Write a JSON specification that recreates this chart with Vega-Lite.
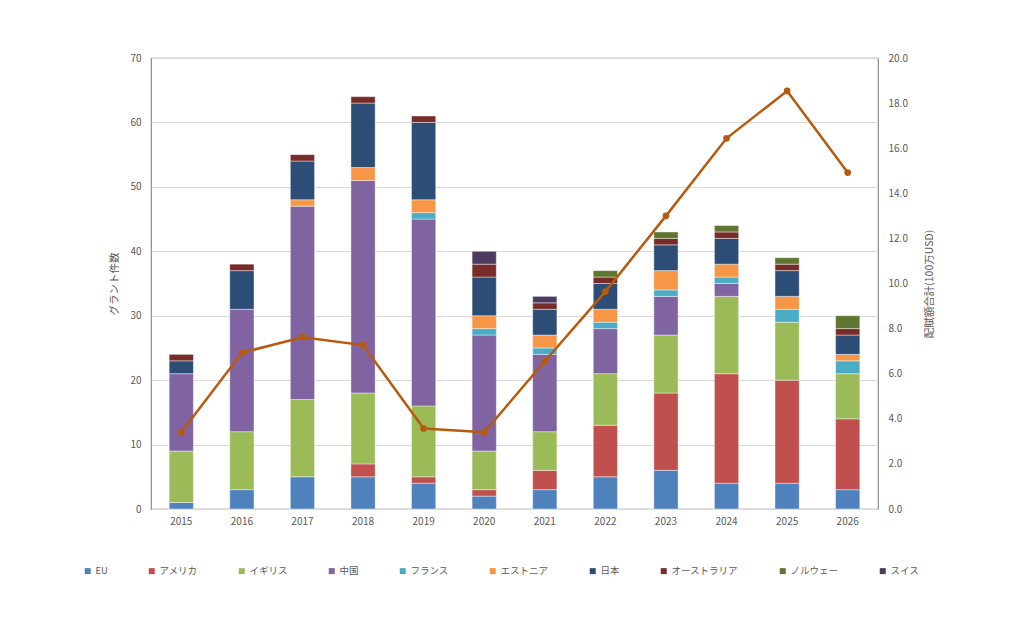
{
  "$schema": "https://vega.github.io/schema/vega-lite/v6.json",
  "autosize": "none",
  "width": 727,
  "height": 451,
  "padding": {"left": 151, "top": 58, "right": 146, "bottom": 129},
  "background": "white",
  "config": {
    "font": "Noto Sans CJK JP",
    "view": {"stroke": "#8a8a8a", "strokeWidth": 1.2},
    "axis": {
      "labelColor": "#595959",
      "labelFontSize": 10,
      "titleColor": "#595959",
      "titleFontSize": 10.5,
      "titleFontWeight": "normal",
      "ticks": false,
      "domain": false,
      "gridColor": "#d9d9d9",
      "gridWidth": 1
    }
  },
  "datasets": {
    "grants": [
      {"year": "2015", "country": "EU", "idx": 0, "count": 1},
      {"year": "2015", "country": "イギリス", "idx": 2, "count": 8},
      {"year": "2015", "country": "中国", "idx": 3, "count": 12},
      {"year": "2015", "country": "日本", "idx": 6, "count": 2},
      {"year": "2015", "country": "オーストラリア", "idx": 7, "count": 1},

      {"year": "2016", "country": "EU", "idx": 0, "count": 3},
      {"year": "2016", "country": "イギリス", "idx": 2, "count": 9},
      {"year": "2016", "country": "中国", "idx": 3, "count": 19},
      {"year": "2016", "country": "日本", "idx": 6, "count": 6},
      {"year": "2016", "country": "オーストラリア", "idx": 7, "count": 1},

      {"year": "2017", "country": "EU", "idx": 0, "count": 5},
      {"year": "2017", "country": "イギリス", "idx": 2, "count": 12},
      {"year": "2017", "country": "中国", "idx": 3, "count": 30},
      {"year": "2017", "country": "エストニア", "idx": 5, "count": 1},
      {"year": "2017", "country": "日本", "idx": 6, "count": 6},
      {"year": "2017", "country": "オーストラリア", "idx": 7, "count": 1},

      {"year": "2018", "country": "EU", "idx": 0, "count": 5},
      {"year": "2018", "country": "アメリカ", "idx": 1, "count": 2},
      {"year": "2018", "country": "イギリス", "idx": 2, "count": 11},
      {"year": "2018", "country": "中国", "idx": 3, "count": 33},
      {"year": "2018", "country": "エストニア", "idx": 5, "count": 2},
      {"year": "2018", "country": "日本", "idx": 6, "count": 10},
      {"year": "2018", "country": "オーストラリア", "idx": 7, "count": 1},

      {"year": "2019", "country": "EU", "idx": 0, "count": 4},
      {"year": "2019", "country": "アメリカ", "idx": 1, "count": 1},
      {"year": "2019", "country": "イギリス", "idx": 2, "count": 11},
      {"year": "2019", "country": "中国", "idx": 3, "count": 29},
      {"year": "2019", "country": "フランス", "idx": 4, "count": 1},
      {"year": "2019", "country": "エストニア", "idx": 5, "count": 2},
      {"year": "2019", "country": "日本", "idx": 6, "count": 12},
      {"year": "2019", "country": "オーストラリア", "idx": 7, "count": 1},

      {"year": "2020", "country": "EU", "idx": 0, "count": 2},
      {"year": "2020", "country": "アメリカ", "idx": 1, "count": 1},
      {"year": "2020", "country": "イギリス", "idx": 2, "count": 6},
      {"year": "2020", "country": "中国", "idx": 3, "count": 18},
      {"year": "2020", "country": "フランス", "idx": 4, "count": 1},
      {"year": "2020", "country": "エストニア", "idx": 5, "count": 2},
      {"year": "2020", "country": "日本", "idx": 6, "count": 6},
      {"year": "2020", "country": "オーストラリア", "idx": 7, "count": 2},
      {"year": "2020", "country": "スイス", "idx": 9, "count": 2},

      {"year": "2021", "country": "EU", "idx": 0, "count": 3},
      {"year": "2021", "country": "アメリカ", "idx": 1, "count": 3},
      {"year": "2021", "country": "イギリス", "idx": 2, "count": 6},
      {"year": "2021", "country": "中国", "idx": 3, "count": 12},
      {"year": "2021", "country": "フランス", "idx": 4, "count": 1},
      {"year": "2021", "country": "エストニア", "idx": 5, "count": 2},
      {"year": "2021", "country": "日本", "idx": 6, "count": 4},
      {"year": "2021", "country": "オーストラリア", "idx": 7, "count": 1},
      {"year": "2021", "country": "スイス", "idx": 9, "count": 1},

      {"year": "2022", "country": "EU", "idx": 0, "count": 5},
      {"year": "2022", "country": "アメリカ", "idx": 1, "count": 8},
      {"year": "2022", "country": "イギリス", "idx": 2, "count": 8},
      {"year": "2022", "country": "中国", "idx": 3, "count": 7},
      {"year": "2022", "country": "フランス", "idx": 4, "count": 1},
      {"year": "2022", "country": "エストニア", "idx": 5, "count": 2},
      {"year": "2022", "country": "日本", "idx": 6, "count": 4},
      {"year": "2022", "country": "オーストラリア", "idx": 7, "count": 1},
      {"year": "2022", "country": "ノルウェー", "idx": 8, "count": 1},

      {"year": "2023", "country": "EU", "idx": 0, "count": 6},
      {"year": "2023", "country": "アメリカ", "idx": 1, "count": 12},
      {"year": "2023", "country": "イギリス", "idx": 2, "count": 9},
      {"year": "2023", "country": "中国", "idx": 3, "count": 6},
      {"year": "2023", "country": "フランス", "idx": 4, "count": 1},
      {"year": "2023", "country": "エストニア", "idx": 5, "count": 3},
      {"year": "2023", "country": "日本", "idx": 6, "count": 4},
      {"year": "2023", "country": "オーストラリア", "idx": 7, "count": 1},
      {"year": "2023", "country": "ノルウェー", "idx": 8, "count": 1},

      {"year": "2024", "country": "EU", "idx": 0, "count": 4},
      {"year": "2024", "country": "アメリカ", "idx": 1, "count": 17},
      {"year": "2024", "country": "イギリス", "idx": 2, "count": 12},
      {"year": "2024", "country": "中国", "idx": 3, "count": 2},
      {"year": "2024", "country": "フランス", "idx": 4, "count": 1},
      {"year": "2024", "country": "エストニア", "idx": 5, "count": 2},
      {"year": "2024", "country": "日本", "idx": 6, "count": 4},
      {"year": "2024", "country": "オーストラリア", "idx": 7, "count": 1},
      {"year": "2024", "country": "ノルウェー", "idx": 8, "count": 1},

      {"year": "2025", "country": "EU", "idx": 0, "count": 4},
      {"year": "2025", "country": "アメリカ", "idx": 1, "count": 16},
      {"year": "2025", "country": "イギリス", "idx": 2, "count": 9},
      {"year": "2025", "country": "フランス", "idx": 4, "count": 2},
      {"year": "2025", "country": "エストニア", "idx": 5, "count": 2},
      {"year": "2025", "country": "日本", "idx": 6, "count": 4},
      {"year": "2025", "country": "オーストラリア", "idx": 7, "count": 1},
      {"year": "2025", "country": "ノルウェー", "idx": 8, "count": 1},

      {"year": "2026", "country": "EU", "idx": 0, "count": 3},
      {"year": "2026", "country": "アメリカ", "idx": 1, "count": 11},
      {"year": "2026", "country": "イギリス", "idx": 2, "count": 7},
      {"year": "2026", "country": "フランス", "idx": 4, "count": 2},
      {"year": "2026", "country": "エストニア", "idx": 5, "count": 1},
      {"year": "2026", "country": "日本", "idx": 6, "count": 3},
      {"year": "2026", "country": "オーストラリア", "idx": 7, "count": 1},
      {"year": "2026", "country": "ノルウェー", "idx": 8, "count": 2}
    ],
    "amounts": [
      {"year": "2015", "amount": 3.4},
      {"year": "2016", "amount": 6.93},
      {"year": "2017", "amount": 7.62},
      {"year": "2018", "amount": 7.27},
      {"year": "2019", "amount": 3.57},
      {"year": "2020", "amount": 3.4},
      {"year": "2021", "amount": 6.55},
      {"year": "2022", "amount": 9.64},
      {"year": "2023", "amount": 13.0},
      {"year": "2024", "amount": 16.44},
      {"year": "2025", "amount": 18.54},
      {"year": "2026", "amount": 14.92}
    ]
  },
  "layer": [
    {
      "data": {"name": "grants"},
      "mark": {"type": "bar", "stroke": "#ffffff", "strokeWidth": 0.6, "strokeOpacity": 0.7},
      "encoding": {
        "x": {
          "field": "year",
          "type": "ordinal",
          "scale": {"paddingInner": 0.6, "paddingOuter": 0.3},
          "axis": {"title": null, "labelAngle": 0, "labelPadding": 7}
        },
        "y": {
          "field": "count",
          "type": "quantitative",
          "stack": "zero",
          "scale": {"domain": [0, 70]},
          "axis": {
            "title": "グラント件数",
            "values": [0, 10, 20, 30, 40, 50, 60, 70],
            "grid": true,
            "labelPadding": 10,
            "titlePadding": 10
          }
        },
        "color": {
          "field": "country",
          "type": "nominal",
          "scale": {
            "domain": ["EU", "アメリカ", "イギリス", "中国", "フランス", "エストニア", "日本", "オーストラリア", "ノルウェー", "スイス"],
            "range": ["#4f81bd", "#c0504d", "#9bbb59", "#8064a2", "#4bacc6", "#f79646", "#2c4d75", "#772c2a", "#5f7530", "#4d3b62"]
          },
          "legend": {
            "title": null,
            "orient": "none",
            "direction": "horizontal",
            "columns": 10,
            "columnPadding": 39,
            "legendX": -68,
            "legendY": 508,
            "symbolType": "square",
            "symbolSize": 36,
            "symbolStrokeWidth": 0,
            "labelFontSize": 9.5,
            "labelColor": "#595959",
            "labelOffset": 3
          }
        },
        "order": {"field": "idx", "type": "quantitative"}
      }
    },
    {
      "data": {"name": "amounts"},
      "mark": {
        "type": "line",
        "color": "#b85a0d",
        "strokeWidth": 2.5,
        "point": {"filled": true, "size": 45, "color": "#b85a0d"}
      },
      "encoding": {
        "x": {"field": "year", "type": "ordinal"},
        "y": {
          "field": "amount",
          "type": "quantitative",
          "scale": {"domain": [0, 20]},
          "axis": {
            "orient": "right",
            "title": "配賦額合計(100万USD)",
            "titleAngle": 270,
            "values": [0, 2, 4, 6, 8, 10, 12, 14, 16, 18, 20],
            "format": ".1f",
            "grid": false,
            "labelPadding": 10,
            "titlePadding": 27
          }
        }
      }
    }
  ],
  "resolve": {"scale": {"y": "independent"}}
}
